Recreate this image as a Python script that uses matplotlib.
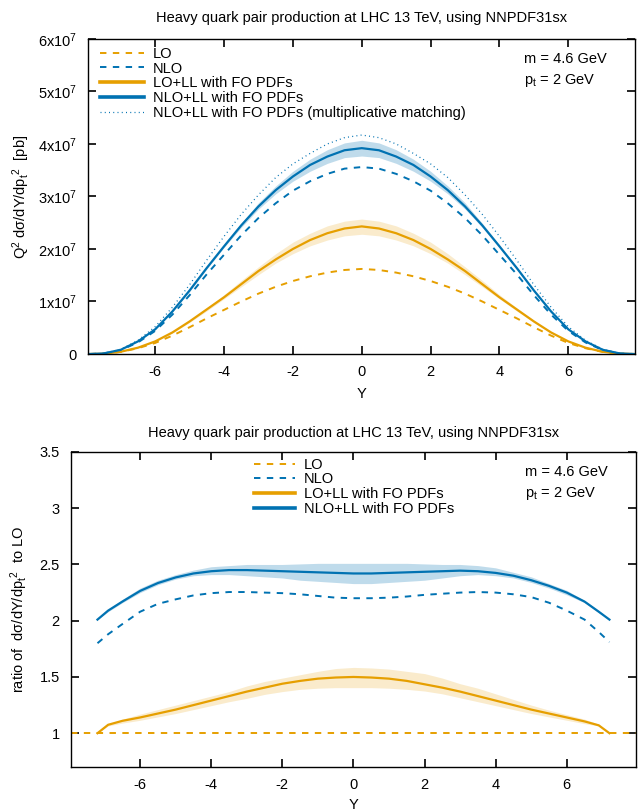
import matplotlib
matplotlib.use('Agg')
import matplotlib.pyplot as plt
import numpy as np

plt.rcParams['font.family'] = ['Liberation Sans', 'DejaVu Sans']
plt.rcParams['mathtext.fontset'] = 'custom'
plt.rcParams['mathtext.rm'] = 'Liberation Sans'
plt.rcParams['mathtext.it'] = 'Liberation Sans:italic'
plt.rcParams['font.size'] = 10.5

ORANGE = '#E69F00'
BLUE = '#0072B2'

TITLE = 'Heavy quark pair production at LHC 13 TeV, using NNPDF31sx'

# --- cross sections, units of 1e7 pb -------------------------------------
y_top = [-7.9, -7.5, -7.0, -6.5, -6.0, -5.5, -5.0, -4.5, -4.0, -3.5, -3.0,
         -2.5, -2.0, -1.5, -1.0, -0.5, 0.0, 0.5, 1.0, 1.5, 2.0, 2.5, 3.0,
         3.5, 4.0, 4.5, 5.0, 5.5, 6.0, 6.5, 7.0, 7.5, 7.9]

lo = [0.0, 0.005, 0.04, 0.11, 0.21, 0.35, 0.51, 0.68, 0.84, 1.00, 1.15,
      1.28, 1.39, 1.48, 1.55, 1.60, 1.62, 1.60, 1.55, 1.48, 1.39, 1.28, 1.15,
      1.00, 0.84, 0.68, 0.51, 0.35, 0.21, 0.11, 0.04, 0.005, 0.0]

nlo = [0.0, 0.01, 0.075, 0.22, 0.44, 0.75, 1.12, 1.52, 1.89, 2.26, 2.59,
       2.87, 3.11, 3.29, 3.43, 3.53, 3.56, 3.53, 3.43, 3.29, 3.11, 2.87, 2.59,
       2.26, 1.89, 1.52, 1.12, 0.75, 0.44, 0.22, 0.075, 0.01, 0.0]

lo_ll = [0.0, 0.005, 0.043, 0.12, 0.24, 0.41, 0.62, 0.85, 1.08, 1.33, 1.58,
         1.80, 2.00, 2.17, 2.30, 2.39, 2.43, 2.39, 2.30, 2.17, 2.00, 1.80, 1.58,
         1.33, 1.08, 0.85, 0.62, 0.41, 0.24, 0.12, 0.043, 0.005, 0.0]
lo_ll_lo = [0.0, 0.005, 0.04, 0.12, 0.23, 0.40, 0.60, 0.82, 1.05, 1.28, 1.51,
            1.73, 1.91, 2.06, 2.17, 2.25, 2.28, 2.25, 2.17, 2.06, 1.91, 1.73, 1.51,
            1.28, 1.05, 0.82, 0.60, 0.40, 0.23, 0.12, 0.04, 0.005, 0.0]
lo_ll_hi = [0.0, 0.005, 0.043, 0.125, 0.245, 0.42, 0.64, 0.88, 1.13, 1.40, 1.66,
            1.91, 2.13, 2.30, 2.44, 2.53, 2.57, 2.53, 2.44, 2.30, 2.13, 1.91, 1.66,
            1.40, 1.13, 0.88, 0.64, 0.42, 0.245, 0.125, 0.043, 0.005, 0.0]

nlo_ll = [0.0, 0.01, 0.08, 0.24, 0.47, 0.81, 1.21, 1.64, 2.05, 2.45, 2.81,
          3.12, 3.38, 3.60, 3.76, 3.88, 3.92, 3.88, 3.76, 3.60, 3.38, 3.12, 2.81,
          2.45, 2.05, 1.64, 1.21, 0.81, 0.47, 0.24, 0.08, 0.01, 0.0]
nlo_ll_lo = [0.0, 0.01, 0.08, 0.24, 0.47, 0.80, 1.19, 1.62, 2.03, 2.41, 2.76,
             3.05, 3.29, 3.48, 3.63, 3.74, 3.77, 3.74, 3.63, 3.48, 3.29, 3.05, 2.76,
             2.41, 2.03, 1.62, 1.19, 0.80, 0.47, 0.24, 0.08, 0.01, 0.0]
nlo_ll_hi = [0.0, 0.01, 0.08, 0.24, 0.48, 0.82, 1.22, 1.66, 2.08, 2.49, 2.88,
             3.20, 3.48, 3.71, 3.89, 4.02, 4.07, 4.02, 3.89, 3.71, 3.48, 3.20, 2.88,
             2.49, 2.08, 1.66, 1.22, 0.82, 0.48, 0.24, 0.08, 0.01, 0.0]

nlo_ll_mult = [0.0, 0.01, 0.09, 0.26, 0.52, 0.89, 1.32, 1.79, 2.24, 2.66, 3.03,
               3.36, 3.62, 3.82, 4.00, 4.12, 4.17, 4.12, 4.00, 3.82, 3.62, 3.36, 3.03,
               2.66, 2.24, 1.79, 1.32, 0.89, 0.52, 0.26, 0.09, 0.01, 0.0]

# --- ratios to LO --------------------------------------------------------
y_rat = [-7.2, -6.9, -6.5, -6.0, -5.5, -5.0, -4.5, -4.0, -3.5, -3.0, -2.5,
         -2.0, -1.5, -1.0, -0.5, 0.0, 0.5, 1.0, 1.5, 2.0, 2.5, 3.0, 3.5,
         4.0, 4.5, 5.0, 5.5, 6.0, 6.5, 6.9, 7.2]

r_nlo = [1.80, 1.88, 1.97, 2.08, 2.15, 2.19, 2.225, 2.245, 2.255, 2.255, 2.25,
         2.245, 2.235, 2.22, 2.205, 2.20, 2.20, 2.205, 2.215, 2.23, 2.24, 2.25, 2.255,
         2.25, 2.235, 2.21, 2.16, 2.09, 2.01, 1.90, 1.81]

r_lo_ll = [1.0, 1.075, 1.11, 1.14, 1.175, 1.21, 1.25, 1.29, 1.33, 1.37, 1.405,
           1.44, 1.465, 1.485, 1.495, 1.50, 1.495, 1.485, 1.465, 1.435, 1.405, 1.37, 1.33,
           1.29, 1.25, 1.21, 1.175, 1.14, 1.105, 1.07, 1.0]
r_lo_ll_lo = [1.0, 1.065, 1.09, 1.115, 1.145, 1.175, 1.21, 1.245, 1.28, 1.31, 1.345,
              1.37, 1.39, 1.40, 1.405, 1.405, 1.405, 1.40, 1.39, 1.375, 1.35, 1.315, 1.28,
              1.245, 1.21, 1.175, 1.145, 1.115, 1.085, 1.065, 1.0]
r_lo_ll_hi = [1.0, 1.08, 1.125, 1.17, 1.21, 1.25, 1.29, 1.33, 1.37, 1.42, 1.46,
              1.49, 1.52, 1.55, 1.575, 1.585, 1.58, 1.57, 1.55, 1.53, 1.49, 1.44, 1.40,
              1.35, 1.30, 1.25, 1.205, 1.165, 1.125, 1.08, 1.0]

r_nlo_ll = [2.01, 2.09, 2.17, 2.265, 2.335, 2.385, 2.42, 2.44, 2.45, 2.45, 2.445,
            2.44, 2.435, 2.43, 2.425, 2.42, 2.42, 2.425, 2.43, 2.435, 2.44, 2.445, 2.44,
            2.425, 2.40, 2.36, 2.31, 2.25, 2.17, 2.08, 2.01]
r_nlo_ll_lo = [2.01, 2.08, 2.16, 2.25, 2.32, 2.37, 2.40, 2.41, 2.41, 2.40, 2.39,
               2.38, 2.36, 2.35, 2.34, 2.33, 2.33, 2.34, 2.35, 2.36, 2.38, 2.40, 2.41,
               2.40, 2.38, 2.34, 2.29, 2.23, 2.16, 2.07, 2.01]
r_nlo_ll_hi = [2.01, 2.10, 2.19, 2.29, 2.36, 2.41, 2.45, 2.48, 2.49, 2.50, 2.50,
               2.50, 2.505, 2.51, 2.51, 2.51, 2.51, 2.51, 2.51, 2.505, 2.50, 2.50, 2.49,
               2.47, 2.43, 2.39, 2.33, 2.27, 2.18, 2.09, 2.01]

x_ticks = [-6, -4, -2, 0, 2, 4, 6]
top_yticks = [0, 1, 2, 3, 4, 5, 6]
top_ylabels = ['0', '1x10$^7$', '2x10$^7$', '3x10$^7$', '4x10$^7$', '5x10$^7$', '6x10$^7$']
rat_yticks = [1, 1.5, 2, 2.5, 3, 3.5]
rat_ylabels = ['1', '1.5', '2', '2.5', '3', '3.5']

DASH = (0, (3.3, 3.3))
DOT = (0, (0.8, 2.6))
MASS = 'm = 4.6 GeV'
PT = 'p$_\\mathrm{t}$ = 2 GeV'


def style_axes(ax):
    for s in ax.spines.values():
        s.set_linewidth(1.0)
    ax.tick_params(direction='in', length=6, width=1.2, top=True, right=True,
                   labelsize=10.5, pad=8)
    ax.set_xlim(-7.95, 7.95)
    ax.set_xticks(x_ticks)
    ax.set_xticklabels([str(t) for t in x_ticks])


fig = plt.figure(figsize=(6.38, 8.11), dpi=100)

# upper panel: cross sections
ax1 = fig.add_axes([0.138, 0.5635, 0.858, 0.3885])
style_axes(ax1)
ax1.fill_between(y_top, lo_ll_lo, lo_ll_hi, color=ORANGE, alpha=0.2, lw=0)
ax1.fill_between(y_top, nlo_ll_lo, nlo_ll_hi, color=BLUE, alpha=0.25, lw=0)
ax1.plot(y_top, lo, color=ORANGE, lw=1.4, ls=DASH, label='LO')
ax1.plot(y_top, nlo, color=BLUE, lw=1.4, ls=DASH, label='NLO')
ax1.plot(y_top, lo_ll, color=ORANGE, lw=1.6, label='LO+LL with FO PDFs')
ax1.plot(y_top, nlo_ll, color=BLUE, lw=1.6, label='NLO+LL with FO PDFs')
ax1.plot(y_top, nlo_ll_mult, color=BLUE, lw=0.9, ls=DOT,
         label='NLO+LL with FO PDFs (multiplicative matching)')
ax1.set_ylim(0, 6)
ax1.set_yticks(top_yticks)
ax1.set_yticklabels(top_ylabels)
ax1.set_title(TITLE, fontsize=10.5, pad=12.5)
ax1.set_xlabel('Y', fontsize=10.5, labelpad=6)
ax1.set_ylabel('Q$^2$ d\u03c3/dY/dp$_\\mathrm{t}$$^2$  [pb]', fontsize=10.5, labelpad=4)
leg1 = ax1.legend(loc='upper left', bbox_to_anchor=(0.022, 0.975), frameon=False,
                  handlelength=3.0, handletextpad=0.6, labelspacing=0.05,
                  borderpad=0, borderaxespad=0, fontsize=10.5)
for h in leg1.get_lines()[2:4]:
    h.set_linewidth(2.6)
ax1.text(0.796, 0.925, MASS, transform=ax1.transAxes, fontsize=10.5)
ax1.text(0.796, 0.858, PT, transform=ax1.transAxes, fontsize=10.5)

# lower panel: ratios to LO
ax2 = fig.add_axes([0.111, 0.0543, 0.886, 0.3884])
style_axes(ax2)
ax2.fill_between(y_rat, r_lo_ll_lo, r_lo_ll_hi, color=ORANGE, alpha=0.2, lw=0)
ax2.fill_between(y_rat, r_nlo_ll_lo, r_nlo_ll_hi, color=BLUE, alpha=0.25, lw=0)
ax2.axhline(1.0, color=ORANGE, lw=1.4, ls=DASH, label='LO')
ax2.plot(y_rat, r_nlo, color=BLUE, lw=1.4, ls=DASH, label='NLO')
ax2.plot(y_rat, r_lo_ll, color=ORANGE, lw=1.6, label='LO+LL with FO PDFs')
ax2.plot(y_rat, r_nlo_ll, color=BLUE, lw=1.6, label='NLO+LL with FO PDFs')
ax2.set_ylim(0.7, 3.5)
ax2.set_yticks(rat_yticks)
ax2.set_yticklabels(rat_ylabels)
ax2.set_title(TITLE, fontsize=10.5, pad=11)
ax2.set_xlabel('Y', fontsize=10.5, labelpad=4.5)
ax2.set_ylabel('ratio of  d\u03c3/dY/dp$_\\mathrm{t}$$^2$  to LO', fontsize=10.5, labelpad=7)
leg2 = ax2.legend(loc='upper left', bbox_to_anchor=(0.324, 0.982), frameon=False,
                  handlelength=2.8, handletextpad=0.6, labelspacing=0.05,
                  borderpad=0, borderaxespad=0, fontsize=10.5)
for h in leg2.get_lines()[2:4]:
    h.set_linewidth(2.6)
ax2.text(0.804, 0.925, MASS, transform=ax2.transAxes, fontsize=10.5)
ax2.text(0.804, 0.858, PT, transform=ax2.transAxes, fontsize=10.5)

fig.savefig('out.png', dpi=100)
